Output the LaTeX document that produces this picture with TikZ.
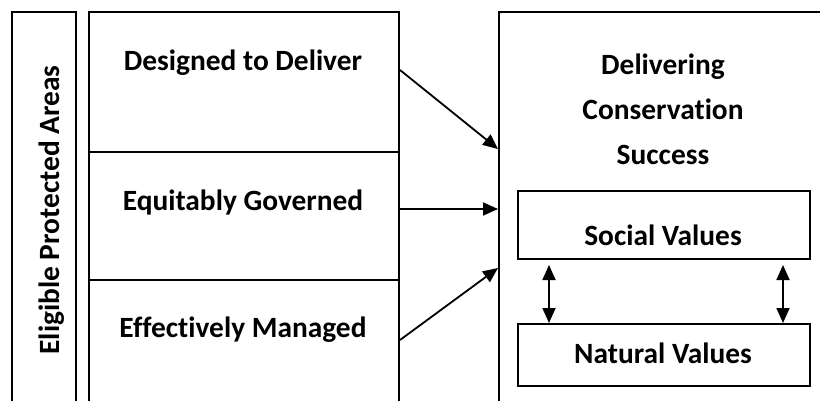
\documentclass[tikz,border=0pt]{standalone}
\usepackage{fontspec}
\setmainfont{Carlito}[Ligatures=NoCommon]
\usetikzlibrary{arrows.meta}

\tikzset{
  cell/.style={draw,line width=1pt,rectangle,anchor=north west,inner sep=0pt},
  caption/.style={font=\fontsize{14.7}{22.5}\selectfont\bfseries,anchor=base,inner sep=0pt},
  flow/.style={draw,line width=0.9pt,-{Triangle[length=7.5pt,width=6.5pt]}},
  twoway/.style={draw,line width=0.9pt,{Triangle[length=7.5pt,width=6.5pt]}-{Triangle[length=7.5pt,width=6.5pt]}}
}

\begin{document}
\begin{tikzpicture}[x=0.5pt,y=-0.5pt]
  \useasboundingbox (0,0) rectangle (820,401);

  \begin{scope}[every node/.style={cell}]
    \node[minimum width=32pt,minimum height=204.5pt] (strip)   at (11,11)  {};
    \node[minimum width=155pt,minimum height=70pt]   (design)  at (88,11)  {};
    \node[minimum width=155pt,minimum height=64pt]   (equity)  at (88,151) {};
    \node[minimum width=155pt,minimum height=70.5pt] (effect)  at (88,279) {};
    \node[minimum width=170pt,minimum height=204.5pt] (outcome) at (498,11) {};
    \node[minimum width=146pt,minimum height=34pt]   (social)  at (517,190) {};
    \node[minimum width=146pt,minimum height=31pt]   (natural) at (517,323) {};
  \end{scope}

  \begin{scope}[every node/.style={caption}]
    \node[rotate=90] (striptext) at (60,210) {Eligible Protected Areas};
    \node (designtext)  at (243,71)  {Designed to Deliver};
    \node (equitytext)  at (243,211) {Equitably Governed};
    \node (effecttext)  at (243,337) {Effectively Managed};
    \node[align=center] (outcometext) at (663,165) {Delivering\\Conservation\\Success};
    \node (socialtext)  at (663,245) {Social Values};
    \node (naturaltext) at (663,363) {Natural Values};
  \end{scope}

  \path (design.east |- 0,70)  edge[flow] (outcome.west |- 0,149);
  \path (equity.east |- 0,209) edge[flow] (outcome.west |- 0,209);
  \path (effect.east |- 0,340) edge[flow] (outcome.west |- 0,268);
  \path (social.south -| 549,0) edge[twoway,shorten <=2.5pt] (natural.north -| 549,0);
  \path (social.south -| 783,0) edge[twoway,shorten <=2.5pt] (natural.north -| 783,0);

\end{tikzpicture}
\end{document}
